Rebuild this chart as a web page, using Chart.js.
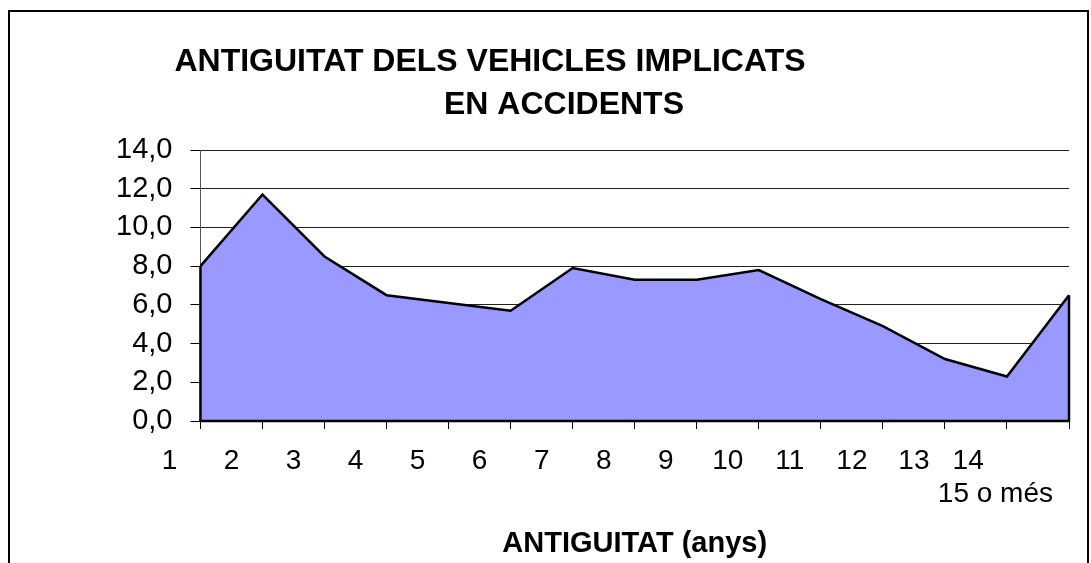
<!DOCTYPE html>
<html>
<head>
<meta charset="utf-8">
<script src="https://cdn.jsdelivr.net/npm/chart.js@4"></script>
<style>
  html, body { margin: 0; padding: 0; background: #fff; }
  #wrap { position: relative; width: 1091px; height: 563px; overflow: hidden; }
  #marc { position: absolute; left: 8px; top: 10px; width: 1077px; height: 620px; border: 2px solid #000; pointer-events: none; }
</style>
</head>
<body>
<div id="wrap">
  <canvas id="myChart" width="1091" height="563"></canvas>
  <div id="marc"></div>
</div>
<script>
// age of the vehicle (years) and share of vehicles involved (%)
const categories = ['1', '2', '3', '4', '5', '6', '7', '8', '9', '10', '11', '12', '13', '14', '15 o més'];
const antiguitat = [8.0, 11.7, 8.5, 6.5, 6.1, 5.7, 7.9, 7.3, 7.3, 7.8, 6.3, 4.9, 3.2, 2.3, 6.5];
const yTickLabels = ['0,0', '2,0', '4,0', '6,0', '8,0', '10,0', '12,0', '14,0'];
const titleLines = ['ANTIGUITAT DELS VEHICLES IMPLICATS', 'EN ACCIDENTS'];
const xTitle = 'ANTIGUITAT (anys)';

const FONT = 'Arial, "Liberation Sans", sans-serif';

// the chart title, two lines not centred on each other (like the original)
const titolPlugin = {
  id: 'titol',
  afterDraw(chart) {
    const ctx = chart.ctx;
    ctx.save();
    ctx.fillStyle = '#000';
    ctx.font = 'bold 32px ' + FONT;
    ctx.textAlign = 'center';
    ctx.textBaseline = 'middle';
    ctx.fillText(titleLines[0], 490, 62);
    ctx.fillText(titleLines[1], 564, 105);
    ctx.restore();
  }
};

// close the area outline at both ends down to the baseline
const voraPlugin = {
  id: 'vora',
  afterDatasetsDraw(chart) {
    const meta = chart.getDatasetMeta(0);
    const pts = meta.data;
    const first = pts[0];
    const last = pts[pts.length - 1];
    const y0 = chart.scales.y.getPixelForValue(0);
    const ctx = chart.ctx;
    ctx.save();
    ctx.strokeStyle = '#000';
    ctx.lineWidth = 2.5;
    ctx.beginPath();
    ctx.moveTo(first.x, first.y);
    ctx.lineTo(first.x, y0);
    ctx.lineTo(last.x, y0);
    ctx.lineTo(last.x, last.y);
    ctx.stroke();
    ctx.restore();
  }
};

const myChart = document.getElementById('myChart');

new Chart(myChart, {
  type: 'line',
  data: {
    labels: categories,
    datasets: [{
      data: antiguitat,
      backgroundColor: '#9999FF',
      borderColor: '#000',
      borderWidth: 2.5,
      pointRadius: 0,
      tension: 0,
      fill: 'origin'
    }]
  },
  options: {
    responsive: false,
    animation: false,
    layout: {
      padding: { top: 150, left: 98, right: 22, bottom: 2 }
    },
    plugins: {
      legend: { display: false },
      title: { display: false },
      tooltip: { enabled: false }
    },
    scales: {
      x: {
        offset: false,
        grid: {
          drawOnChartArea: false,
          drawTicks: true,
          tickLength: 8,
          color: '#000'
        },
        border: { color: '#000', width: 2 },
        ticks: {
          autoSkip: false,
          maxRotation: 0,
          minRotation: 0,
          padding: 15,
          labelOffset: -31,
          color: '#000',
          font: { family: FONT, size: 28 },
          callback: function (val, i) {
            // last category does not fit, it goes under "14" on a second line
            if (i === categories.length - 2) {
              return [categories[i] + '  ', '     ' + categories[i + 1]];
            }
            if (i === categories.length - 1) return '';
            return categories[i];
          }
        },
        title: {
          display: true,
          text: xTitle,
          color: '#000',
          font: { family: FONT, size: 29, weight: 'bold' },
          padding: { top: 0, bottom: 0 }
        }
      },
      y: {
        min: 0,
        max: 14,
        grid: {
          color: '#222',
          lineWidth: 1,
          tickLength: 10,
          tickColor: '#000'
        },
        border: { color: '#555', width: 1 },
        ticks: {
          stepSize: 2,
          padding: 18,
          color: '#000',
          font: { family: FONT, size: 29 },
          callback: function (val) {
            return yTickLabels[Math.round(val / 2)];
          }
        }
      }
    }
  },
  plugins: [titolPlugin, voraPlugin]
});
</script>
</body>
</html>
